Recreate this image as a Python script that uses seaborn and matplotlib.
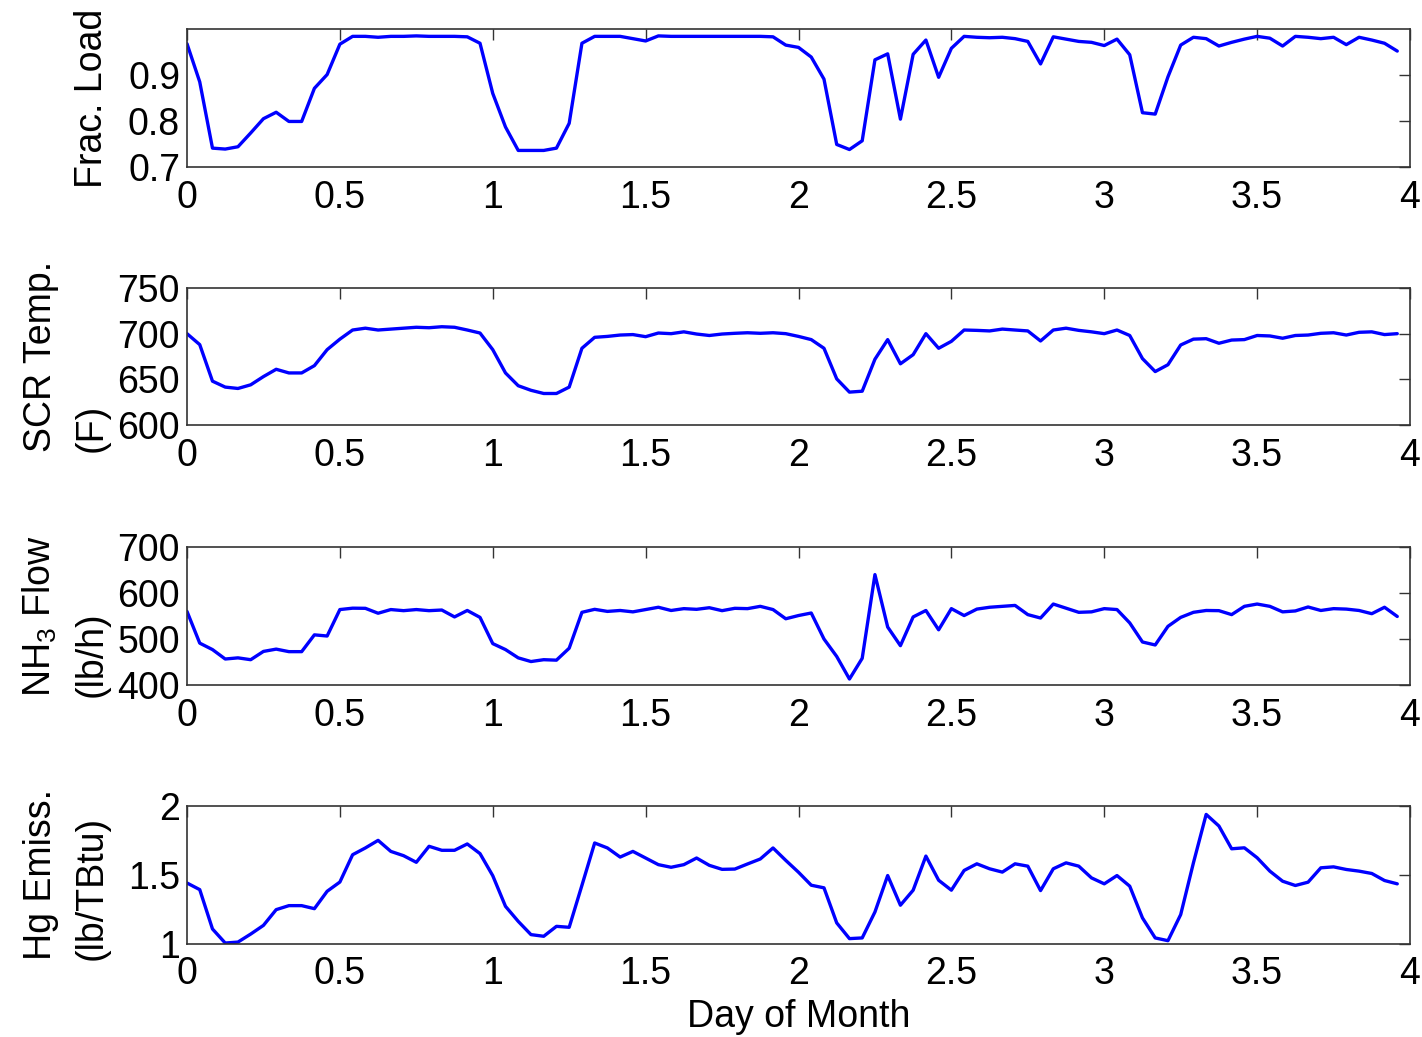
import numpy as np
import pandas as pd
import matplotlib
matplotlib.use("Agg")
import matplotlib.pyplot as plt
import seaborn as sns

# ---------------- data (hourly samples, 96 h) ----------------
hours = np.arange(96)

frac_load = [0.968, 0.885, 0.741, 0.739, 0.744, 0.774, 0.805, 0.819, 0.799, 0.799,
             0.871, 0.901, 0.967, 0.984, 0.984, 0.982, 0.984, 0.984, 0.985, 0.984,
             0.984, 0.984, 0.983, 0.969, 0.860, 0.787, 0.736, 0.736, 0.736, 0.741,
             0.795, 0.969, 0.984, 0.984, 0.984, 0.979, 0.974, 0.985, 0.984, 0.984,
             0.984, 0.984, 0.984, 0.984, 0.984, 0.984, 0.983, 0.965, 0.960, 0.939,
             0.891, 0.749, 0.738, 0.757, 0.933, 0.946, 0.804, 0.945, 0.976, 0.895,
             0.958, 0.984, 0.982, 0.981, 0.982, 0.979, 0.973, 0.924, 0.983, 0.978,
             0.973, 0.971, 0.964, 0.978, 0.944, 0.818, 0.815, 0.896, 0.965, 0.982,
             0.979, 0.963, 0.971, 0.978, 0.984, 0.980, 0.963, 0.984, 0.982, 0.979,
             0.982, 0.966, 0.982, 0.976, 0.969, 0.952]

scr_temp = [700, 688, 648, 641.5, 640, 644, 653, 661, 657, 657,
            665, 682.5, 694, 704, 706, 704, 705, 706, 707, 706.5,
            707.6, 707, 704, 700.7, 682.5, 657, 643, 638, 634.5, 634.5,
            641.5, 684, 696, 697, 698.5, 699, 696.7, 700.7, 700, 702,
            699.6, 698, 699.6, 700.4, 701, 700.4, 701, 700, 697, 693.5,
            684, 650.5, 636, 637, 672, 693.5, 667, 677, 700, 684,
            691.6, 704, 703.6, 703, 705, 704, 703, 692, 704, 706,
            703.6, 702, 700, 704, 698, 672.7, 658.5, 666, 687.6, 694,
            694.5, 689.5, 693, 693.5, 698, 697.5, 695, 698, 698.5, 700.4,
            701, 698.5, 701.5, 702, 699, 700]

nh3_flow = [560, 491, 477, 456.5, 459, 455, 473, 478, 472.5, 472.5,
            509, 506.5, 564, 567, 566.7, 556, 564, 561.6, 564, 561.6,
            563, 548, 562, 547, 490, 477, 459, 451, 455, 454,
            480, 558, 564.5, 560, 562, 559, 564, 569, 562, 566,
            564.5, 568, 561.6, 566.7, 566, 571, 564, 544, 551, 556.5,
            500, 462, 413, 458, 640, 526, 485.5, 548, 562, 520,
            566, 551, 565, 569, 571, 573, 553, 545.6, 576, 567,
            558, 559, 566, 564, 535, 493.5, 487, 527.5, 547, 558,
            562, 561.6, 553, 571, 576, 571, 559, 561, 569.6, 562,
            566, 565, 562, 555, 569, 549]

hg_emiss = [1.442, 1.394, 1.109, 1.007, 1.014, 1.072, 1.135, 1.249, 1.278, 1.278,
            1.256, 1.382, 1.449, 1.647, 1.696, 1.751, 1.671, 1.640, 1.592, 1.708,
            1.679, 1.679, 1.725, 1.655, 1.495, 1.273, 1.164, 1.068, 1.056, 1.128,
            1.121, 1.425, 1.732, 1.696, 1.630, 1.671, 1.623, 1.575, 1.556, 1.575,
            1.623, 1.570, 1.541, 1.543, 1.580, 1.616, 1.696, 1.606, 1.520, 1.426,
            1.407, 1.153, 1.039, 1.044, 1.232, 1.496, 1.281, 1.390, 1.637, 1.462,
            1.390, 1.533, 1.581, 1.545, 1.521, 1.581, 1.564, 1.387, 1.545, 1.588,
            1.564, 1.479, 1.436, 1.496, 1.419, 1.189, 1.044, 1.024, 1.213, 1.588,
            1.939, 1.855, 1.690, 1.697, 1.625, 1.528, 1.455, 1.424, 1.448, 1.552,
            1.559, 1.540, 1.528, 1.511, 1.460, 1.436]

x_ticks = [0, 0.5, 1, 1.5, 2, 2.5, 3, 3.5, 4]
x_tick_labels = ["0", "0.5", "1", "1.5", "2", "2.5", "3", "3.5", "4"]

panel_labels = ["Frac. Load", "SCR Temp.\n(F)", "NH$_3$ Flow\n(lb/h)", "Hg Emiss.\n(lb/TBtu)"]
panel_series = [frac_load, scr_temp, nh3_flow, hg_emiss]
panel_ylims = [(0.7, 1.0), (600, 750), (400, 700), (1, 2)]
panel_yticks = [[0.7, 0.8, 0.9], [600, 650, 700, 750], [400, 500, 600, 700], [1, 1.5, 2]]
panel_yticklabels = [["0.7", "0.8", "0.9"], ["600", "650", "700", "750"],
                     ["400", "500", "600", "700"], ["1", "1.5", "2"]]
x_label = "Day of Month"

# ---------------- style ----------------
sns.set_style("white")
plt.rcParams["font.family"] = ["Liberation Sans", "DejaVu Sans"]
plt.rcParams["mathtext.fontset"] = "custom"
plt.rcParams["mathtext.rm"] = "Liberation Sans"
plt.rcParams["mathtext.it"] = "Liberation Sans"
plt.rcParams["mathtext.default"] = "regular"
plt.rcParams["text.color"] = "black"
plt.rcParams["axes.labelcolor"] = "black"
plt.rcParams["xtick.color"] = "black"
plt.rcParams["ytick.color"] = "black"

FS = 27
W, H = 1422, 1037
fig = plt.figure(figsize=(W / 100, H / 100), dpi=100)

# axes pixel boxes: (top, bottom)
boxes = [(29, 167), (288, 425), (547, 685), (806, 944)]
left_px, right_px = 187, 1410

df = pd.DataFrame({"day": hours / 24.0})

for k, (top, bot) in enumerate(boxes):
    ax = fig.add_axes([left_px / W, 1 - bot / H, (right_px - left_px) / W, (bot - top) / H])
    df["val"] = panel_series[k]
    sns.lineplot(data=df, x="day", y="val", ax=ax, color=(0, 0, 1), linewidth=2.4)
    ax.set_xlim(0, 4)
    ax.set_ylim(*panel_ylims[k])
    ax.set_xticks(x_ticks)
    ax.set_xticklabels(x_tick_labels, fontsize=FS)
    ax.set_yticks(panel_yticks[k])
    ax.set_yticklabels(panel_yticklabels[k], fontsize=FS)
    ax.tick_params(axis="both", direction="in", top=True, right=True,
                   length=8, width=1, color="#333333", labelcolor="black")
    ax.tick_params(axis="x", pad=9)
    ax.tick_params(axis="y", pad=5)
    for sp in ax.spines.values():
        sp.set_visible(True)
        sp.set_color("#333333")
        sp.set_linewidth(1.2)
    ax.set_xlabel("")
    ax.set_ylabel(panel_labels[k], fontsize=FS, multialignment="left",
                  linespacing=1.55, color="black")
    ax.yaxis.set_label_coords(-0.063, 0.5)
    if k == 3:
        ax.set_xlabel(x_label, fontsize=FS, labelpad=5, color="black")

fig.savefig("out.png", dpi=100)
